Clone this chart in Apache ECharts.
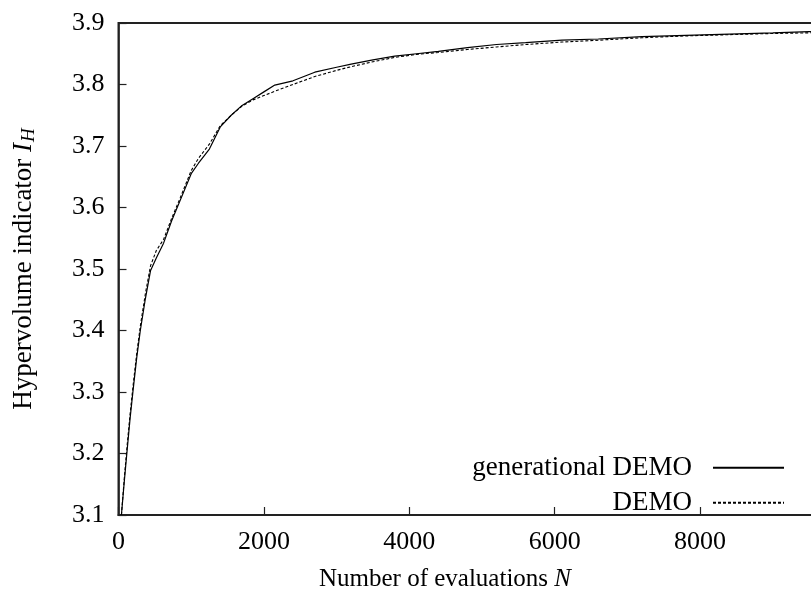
<!DOCTYPE html>
<html>
<head>
<meta charset="utf-8">
<title>Hypervolume indicator vs. number of evaluations</title>
<script src="https://cdn.jsdelivr.net/npm/echarts@6/dist/echarts.min.js"></script>
<style>
  html, body { margin: 0; padding: 0; background: #fff; overflow: hidden; }
  #chart { width: 811px; height: 592px; }
</style>
</head>
<body>
<div id="chart"></div>
<script>
// Number of evaluations at which the hypervolume was recorded
const evaluations = [40, 80, 120, 160, 200, 250, 300, 370, 440, 520, 620, 730, 850, 1000, 1100,
  1250, 1400, 1550, 1700, 1850, 2000, 2150, 2400, 2700, 3000, 3200, 3500, 3800, 4100, 4400,
  4800, 5200, 5600, 6100, 6600, 7200, 7800, 8400, 9000, 9500, 10000];

// Hypervolume indicator, generational DEMO
const generationalDemo = [3.100, 3.155, 3.207, 3.258, 3.302, 3.355, 3.400, 3.452, 3.497, 3.518,
  3.542, 3.578, 3.612, 3.655, 3.672, 3.695, 3.731, 3.750, 3.766, 3.777, 3.788, 3.799, 3.806,
  3.820, 3.828, 3.833, 3.840, 3.846, 3.850, 3.854, 3.860, 3.865, 3.868, 3.872, 3.874, 3.878,
  3.880, 3.882, 3.884, 3.886, 3.887];

// Hypervolume indicator, DEMO
const demo = [3.100, 3.160, 3.215, 3.265, 3.310, 3.362, 3.407, 3.460, 3.505, 3.530, 3.548,
  3.582, 3.616, 3.660, 3.680, 3.703, 3.733, 3.750, 3.765, 3.775, 3.782, 3.789, 3.800, 3.813,
  3.823, 3.829, 3.837, 3.844, 3.849, 3.852, 3.857, 3.861, 3.865, 3.869, 3.872, 3.876, 3.879,
  3.881, 3.883, 3.884, 3.885];

const seriesNames = ['generational DEMO', 'DEMO'];

const FONT = '"Liberation Serif", "DejaVu Serif", serif';
const FS = 26;

const pairs = (ys) => evaluations.map((x, i) => [x, ys[i]]);

const chart = echarts.init(document.getElementById('chart'), null, { renderer: 'canvas' });

const legendBase = {
  orient: 'vertical',
  align: 'right',
  right: 26,
  padding: 0,
  itemWidth: 71,
  itemHeight: 14,
  selectedMode: false,
  itemStyle: { color: 'rgba(0,0,0,0)', borderWidth: 0 },
  textStyle: {
    fontFamily: FONT,
    fontSize: 27,
    color: '#000',
    lineHeight: 28,
    padding: [0, 16, 0, 0]
  }
};

chart.setOption({
  animation: false,
  backgroundColor: '#fff',
  grid: {
    left: 118.5,
    top: 23,
    bottom: 77,
    width: 727,
    show: true,
    borderColor: '#222',
    borderWidth: 2,
    containLabel: false,
    outerBoundsMode: 'none'
  },
  legend: [
    Object.assign({}, legendBase, { data: [seriesNames[0]], top: 453.7 }),
    Object.assign({}, legendBase, { data: [seriesNames[1]], top: 488.7 })
  ],
  xAxis: {
    type: 'value',
    min: 0,
    max: 10000,
    interval: 2000,
    name: 'Number of evaluations {it|N}',
    nameLocation: 'middle',
    nameGap: 52,
    nameTextStyle: {
      fontFamily: FONT,
      fontSize: 25,
      color: '#000',
      padding: [0, 74, 0, 0],
      rich: {
        it: { fontFamily: FONT, fontSize: 25, fontStyle: 'italic', color: '#000' }
      }
    },
    axisLine: { show: true, onZero: false, lineStyle: { color: '#222', width: 2 } },
    axisTick: { show: true, inside: true, length: 8, lineStyle: { color: '#222', width: 1.2 } },
    axisLabel: {
      fontFamily: FONT,
      fontSize: FS,
      color: '#000',
      margin: 14,
      formatter: (v) => String(v)
    },
    splitLine: { show: false }
  },
  yAxis: {
    type: 'value',
    min: 3.1,
    max: 3.9,
    interval: 0.1,
    name: '{t|Hypervolume indicator }{it|I}{sub|H}',
    nameLocation: 'middle',
    nameGap: 80,
    nameTextStyle: {
      fontFamily: FONT,
      fontSize: 27,
      color: '#000',
      rich: {
        t: { fontFamily: FONT, fontSize: 27, color: '#000' },
        it: { fontFamily: FONT, fontSize: 27, fontStyle: 'italic', color: '#000' },
        sub: { fontFamily: FONT, fontSize: 19, fontStyle: 'italic', color: '#000', padding: [10, 0, 0, 1] }
      }
    },
    axisLine: { show: true, onZero: false, lineStyle: { color: '#222', width: 1.5 } },
    axisTick: { show: true, inside: true, length: 8, lineStyle: { color: '#222', width: 1.2 } },
    axisLabel: {
      fontFamily: FONT,
      fontSize: FS,
      color: '#000',
      margin: 14,
      formatter: (v) => v.toFixed(1)
    },
    splitLine: { show: false }
  },
  series: [
    {
      name: seriesNames[0],
      type: 'line',
      data: pairs(generationalDemo),
      symbol: 'none',
      showSymbol: false,
      clip: true,
      lineStyle: { color: '#000', width: 1.2, type: 'solid' },
      itemStyle: { color: '#000' }
    },
    {
      name: seriesNames[1],
      type: 'line',
      data: pairs(demo),
      symbol: 'none',
      showSymbol: false,
      clip: true,
      lineStyle: { color: '#000', width: 1.1, type: [3, 2] },
      itemStyle: { color: '#000' }
    }
  ]
});
</script>
</body>
</html>
